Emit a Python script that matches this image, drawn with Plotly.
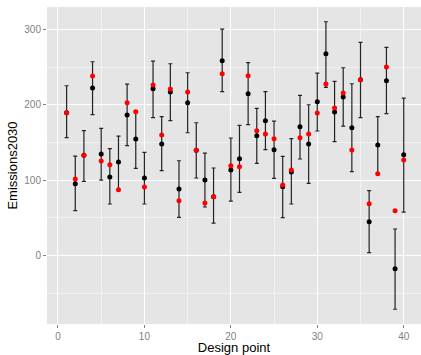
import plotly.graph_objects as go

design_point = list(range(1, 41))
emissions = [189.6, 95.3, 133.0, 222.4, 134.7, 104.2, 124.1, 186.5, 154.7, 102.9,
             221.4, 148.0, 217.0, 88.3, 202.8, 139.6, 100.2, 78.1, 258.6, 113.5,
             128.5, 214.8, 159.0, 179.0, 140.5, 91.4, 110.8, 171.0, 148.0, 204.2,
             267.9, 190.5, 210.4, 169.7, 233.4, 44.9, 146.7, 232.0, -17.5, 133.8]
upper = [225.4, 132.0, 165.7, 257.3, 168.8, 141.8, 158.6, 227.7, 192.3, 137.0,
         258.2, 184.3, 254.6, 125.8, 242.7, 176.3, 136.0, 116.2, 300.7, 156.0,
         172.8, 256.0, 195.4, 217.5, 178.5, 131.7, 155.1, 212.6, 200.2, 242.3,
         310.4, 231.2, 249.3, 228.1, 283.0, 86.0, 184.3, 276.3, 35.2, 209.1]
lower = [156.4, 59.5, 98.5, 187.0, 100.2, 68.4, 87.4, 145.8, 115.7, 68.4,
         183.0, 112.6, 179.0, 50.7, 163.0, 102.9, 64.4, 43.1, 217.5, 72.3,
         83.9, 173.7, 122.4, 140.5, 102.5, 50.3, 68.4, 128.1, 95.8, 165.3,
         223.3, 151.1, 171.9, 111.3, 183.0, 3.7, 108.6, 188.3, -71.4, 57.7]
observed = [189.6, 101.6, 133.0, 238.3, 125.4, 120.6, 87.4, 202.8, 190.9, 90.9,
            226.3, 160.0, 221.0, 72.8, 217.0, 139.6, 69.7, 78.1, 241.4, 119.3,
            117.9, 238.7, 165.7, 161.3, 155.1, 93.6, 113.5, 156.4, 161.3, 189.2,
            227.7, 195.8, 215.7, 140.0, 233.4, 68.8, 108.6, 250.3, 59.5, 126.8]

err_plus = [u - e for u, e in zip(upper, emissions)]
err_minus = [e - l for e, l in zip(emissions, lower)]

fig = go.Figure()
fig.add_trace(go.Scatter(
    x=design_point, y=emissions, mode="markers",
    marker=dict(color="black", size=5),
    error_y=dict(type="data", symmetric=False, array=err_plus, arrayminus=err_minus,
                 color="rgba(0,0,0,0.85)", thickness=1.2, width=2),
    showlegend=False,
))
fig.add_trace(go.Scatter(
    x=design_point, y=observed, mode="markers",
    marker=dict(color="red", size=5),
    showlegend=False,
))

axis_common = dict(
    showline=False, zeroline=False,
    gridcolor="white", gridwidth=1.1,
    ticks="outside", ticklen=3, tickcolor="#7F7F7F", tickwidth=1,
    tickfont=dict(family="Liberation Sans, Arial", size=10, color="#7F7F7F"),
)

fig.update_layout(
    width=421, height=355,
    margin=dict(l=47, r=0, t=7, b=31),
    paper_bgcolor="white", plot_bgcolor="#E5E5E5",
    font=dict(family="Liberation Sans, Arial", color="black"),
    xaxis=dict(
        range=[-1.27, 42.0], tickmode="array", tickvals=[0, 10, 20, 30, 40],
        minor=dict(tickmode="array", tickvals=[5, 15, 25, 35], showgrid=True,
                   gridcolor="#F2F2F2", gridwidth=0.6, ticks=""),
        title=dict(text="Design point", font=dict(size=13), standoff=5),
        automargin=False,
        **axis_common,
    ),
    yaxis=dict(
        range=[-91, 330], tickmode="array", tickvals=[0, 100, 200, 300],
        minor=dict(tickmode="array", tickvals=[-50, 50, 150, 250], showgrid=True,
                   gridcolor="#F2F2F2", gridwidth=0.6, ticks=""),
        title=dict(text="Emissions2030", font=dict(size=13), standoff=3),
        automargin=False,
        **axis_common,
    ),
)

fig.write_html("out.html", config={"displayModeBar": False},
               post_script="document.body.style.margin='0px';")
